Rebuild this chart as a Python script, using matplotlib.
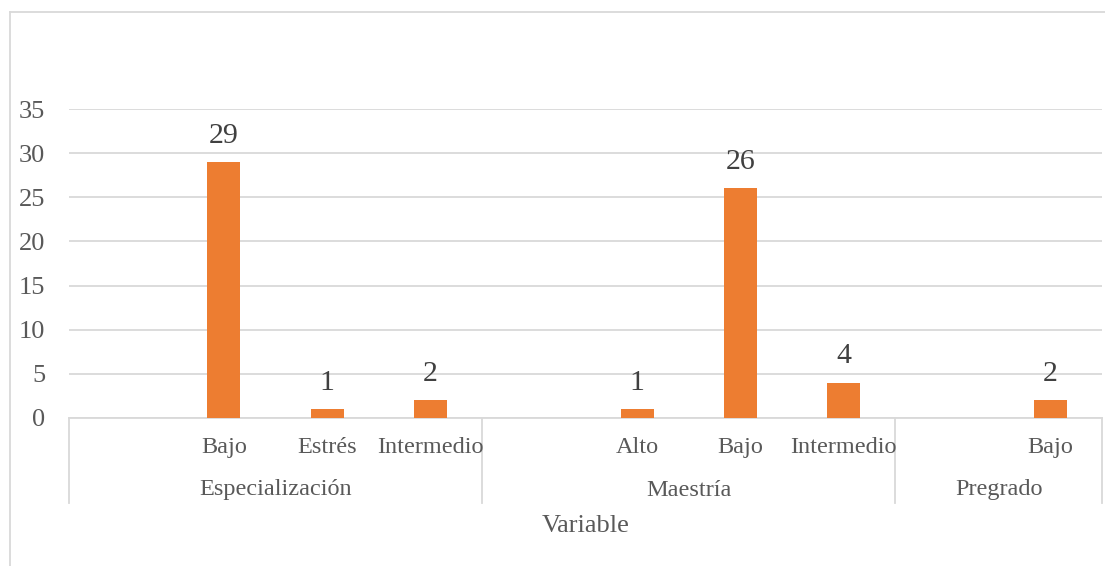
import numpy as np
import matplotlib
matplotlib.use("Agg")
import matplotlib.pyplot as plt
import matplotlib.transforms as mtransforms
from matplotlib.lines import Line2D

# ---- data ----
groups = ["Especialización", "Maestría", "Pregrado"]
subcategories = [["", "Bajo", "Estrés", "Intermedio"],
                 ["", "Alto", "Bajo", "Intermedio"],
                 ["", "Bajo"]]
values = [[None, 29, 1, 2],
          [None, 1, 26, 4],
          [None, 2]]
axis_title = "Variable"
yticks = [0, 5, 10, 15, 20, 25, 30, 35]

# ---- style ----
plt.rcParams['font.family'] = ['Liberation Serif', 'DejaVu Serif']
BAR = '#ED7D31'
GRID = '#D9D9D9'
TICK = '#595959'
LABEL = '#404040'

W, H = 1105, 566
fig = plt.figure(figsize=(W / 100, H / 100), dpi=100)
ax_left, ax_right, ax_bottom, ax_top = 69, 1102, 418, 109
ax = fig.add_axes([ax_left / W, 1 - ax_bottom / H,
                   (ax_right - ax_left) / W, (ax_bottom - ax_top) / H])

# flatten
labels, vals, bounds = [], [], [-0.5]
for subs, vs in zip(subcategories, values):
    labels.extend(subs)
    vals.extend([np.nan if v is None else v for v in vs])
    bounds.append(len(labels) - 0.5)
x = np.arange(len(labels))
vals = np.array(vals, dtype=float)

bars = ax.bar(x, vals, width=0.32, color=BAR, zorder=3)
for xi, v in zip(x, vals):
    if not np.isnan(v):
        ax.annotate(f"{int(v)}", (xi, v), xytext=(0, 19), textcoords='offset points',
                    ha='center', va='center', fontsize=21.5, color=LABEL)

ax.set_xlim(-0.5, len(labels) - 0.5)
ax.set_ylim(0, 35)
ax.set_yticks(yticks)
ax.set_yticklabels([str(t) for t in yticks], fontsize=19, color=TICK)
ax.tick_params(axis='y', length=0, pad=17)
ax.set_xticks([])
ax.grid(axis='y', color=GRID, linewidth=1.3, zorder=0)
for s in ['top', 'right', 'left']:
    ax.spines[s].set_visible(False)
ax.spines['bottom'].set_color(GRID)
ax.spines['bottom'].set_linewidth(1.3)

# multi-level category axis
trans = mtransforms.blended_transform_factory(ax.transData, fig.transFigure)
def fy(py):
    return 1 - py / H

for xi, lab in zip(x, labels):
    if lab:
        ax.text(xi, fy(447.5), lab, transform=trans, ha='center', va='center',
                fontsize=17.5, color=TICK)
for g, lo, hi in zip(groups, bounds[:-1], bounds[1:]):
    ax.text((lo + hi) / 2, fy(490), g, transform=trans, ha='center', va='center',
            fontsize=17.5, color=TICK)
for b in bounds:
    ax.add_line(Line2D([b, b], [fy(418), fy(503)], transform=trans, color=GRID,
                       linewidth=1.3, clip_on=False))
ax.text((bounds[0] + bounds[-1]) / 2, fy(526), axis_title, transform=trans,
        ha='center', va='center', fontsize=19, color=TICK)

# chart border (partially outside image)
fig.add_artist(Line2D([10 / W, 10 / W], [0, fy(12)], transform=fig.transFigure,
                      color=GRID, linewidth=1.3))
fig.add_artist(Line2D([10 / W, 1], [fy(12), fy(12)], transform=fig.transFigure,
                      color=GRID, linewidth=1.3))

fig.savefig("out.png", dpi=100)
